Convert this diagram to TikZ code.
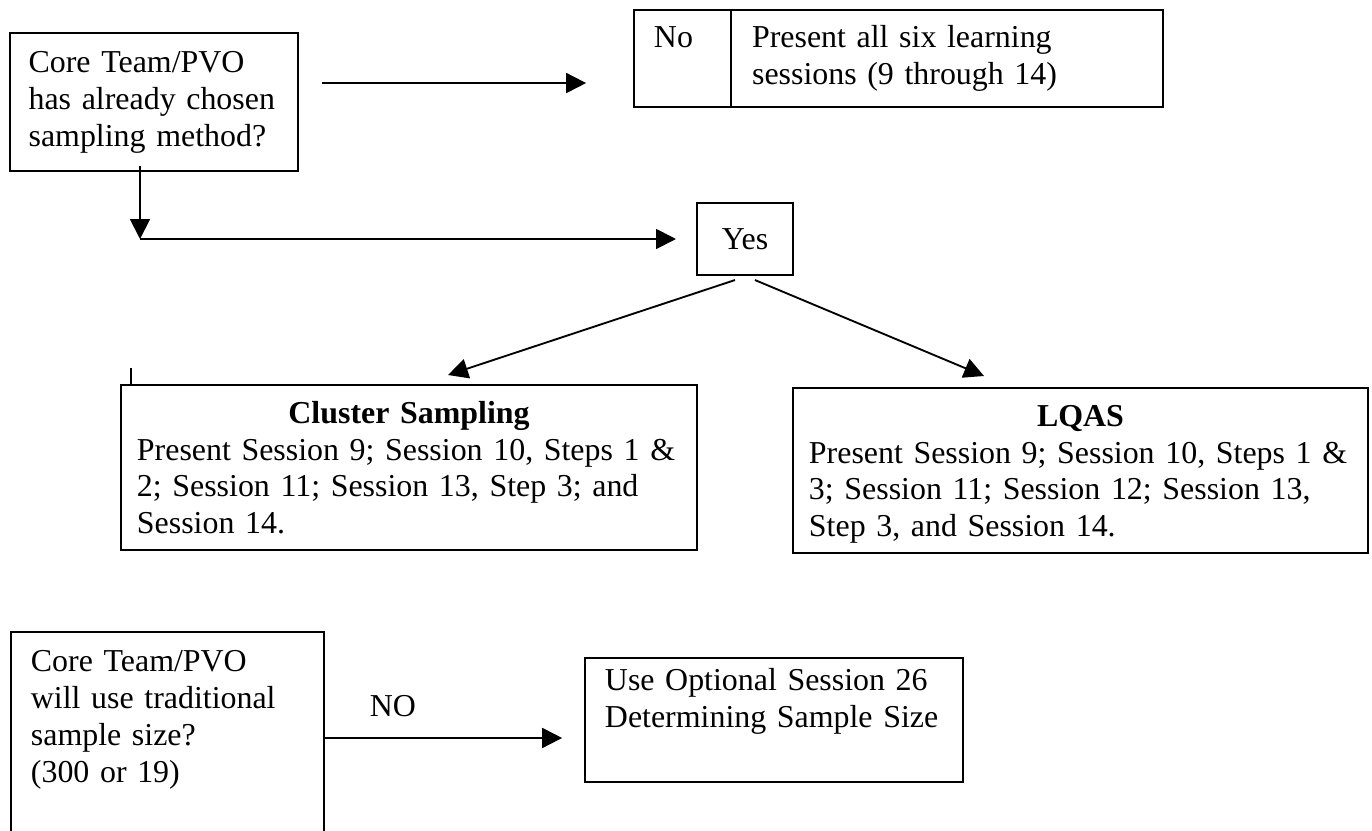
\documentclass[tikz,border=0pt]{standalone}
\usepackage{fontspec}
\setmainfont{Liberation Serif}
\usetikzlibrary{arrows.meta, calc, positioning}
\tikzset{
  box/.style={draw, line width=0.7pt, outer sep=0pt, align=left, anchor=north west},
  arr/.style={line width=0.7pt, -{Triangle[length=7.5pt, width=7.5pt]}}
}

\begin{document}
\begin{tikzpicture}[x=0.376pt, y=-0.376pt, every node/.style={font=\fontsize{12}{13.8}\selectfont}]
\useasboundingbox (0,0) rectangle (1372,830);
\clip (0,0) rectangle (1372,830);

% first question and its two answers
\node[box, inner xsep=7pt, inner ysep=6.7pt, text width=94.3pt, text height=8.3pt, text depth=30.2pt] (q1) at (10,33) {Core Team/PVO\\has already chosen\\sampling method?};
\node[box, inner xsep=7.5pt, inner ysep=5.95pt, text width=21.5pt, text height=8.2pt, text depth=16.4pt] (nocell) at (634,10) {No};
\node[box, right=0pt of nocell, inner xsep=7.9pt, inner ysep=5.95pt, text width=146.6pt, text height=8.2pt, text depth=16.4pt] (nosess) {Present all six learning\\sessions (9 through 14)};
\node[draw, line width=0.7pt, outer sep=0pt, minimum width=36.1pt, minimum height=27.1pt] (yes) at (745,239) {Yes};

\node[box, inner xsep=6pt, inner ysep=6.2pt, text width=204.6pt, text height=8.2pt, text depth=41.4pt] (clus) at (121,385) {{\centering\bfseries Cluster Sampling\par}Present Session 9; Session 10, Steps 1 \&\\2; Session 11; Session 13, Step 3; and\\Session 14.};
\node[box, inner xsep=6pt, inner ysep=6.2pt, text width=204.2pt, text height=8.2pt, text depth=41.4pt] (lqas) at (793,388) {{\centering\bfseries LQAS\par}Present Session 9; Session 10, Steps 1 \&\\3; Session 11; Session 12; Session 13,\\Step 3, and Session 14.};

% second question
\node[box, inner xsep=7.5pt, inner ysep=6.7pt, text width=102.7pt, text height=8.3pt, text depth=70pt] (q2) at (11,632) {Core Team/PVO\\will use traditional\\sample size?\\(300 or 19)};
\node[box, inner xsep=7.5pt, inner ysep=4pt, text width=127pt, text height=8.2pt, text depth=30.4pt] (opt) at (585,658) {Use Optional Session 26\\Determining Sample Size};

\coordinate (chosen) at ($(q1.east)+(0,-19)$);
\draw[arr, shorten <=9pt, shorten >=18pt] (chosen) -- (chosen -| nocell.west);
\coordinate (turn) at (140,239);
\draw[arr] ($(turn |- q1.south)+(0,-5)$) -- (turn);
\draw[arr, shorten >=7.9pt] (turn) -- (yes.west);
\draw[arr] ($(yes.south)+(-10,5)$) -- ($(clus.north)+(39,-10)$);
\draw[arr] ($(yes.south)+(10,5)$) -- ($(lqas.north)+(-96.5,-12)$);
\draw[line width=0.7pt] ($(clus.north west)+(10,0)$) -- ++(0,-17);

\coordinate (noend) at ($(opt.west)+(0,18)$);
\draw[arr, shorten >=8.6pt] (q2.east |- noend) -- (noend) node[pos=0.264, above=7.5pt, inner sep=0pt] (nolbl) {NO};
\end{tikzpicture}
\end{document}
